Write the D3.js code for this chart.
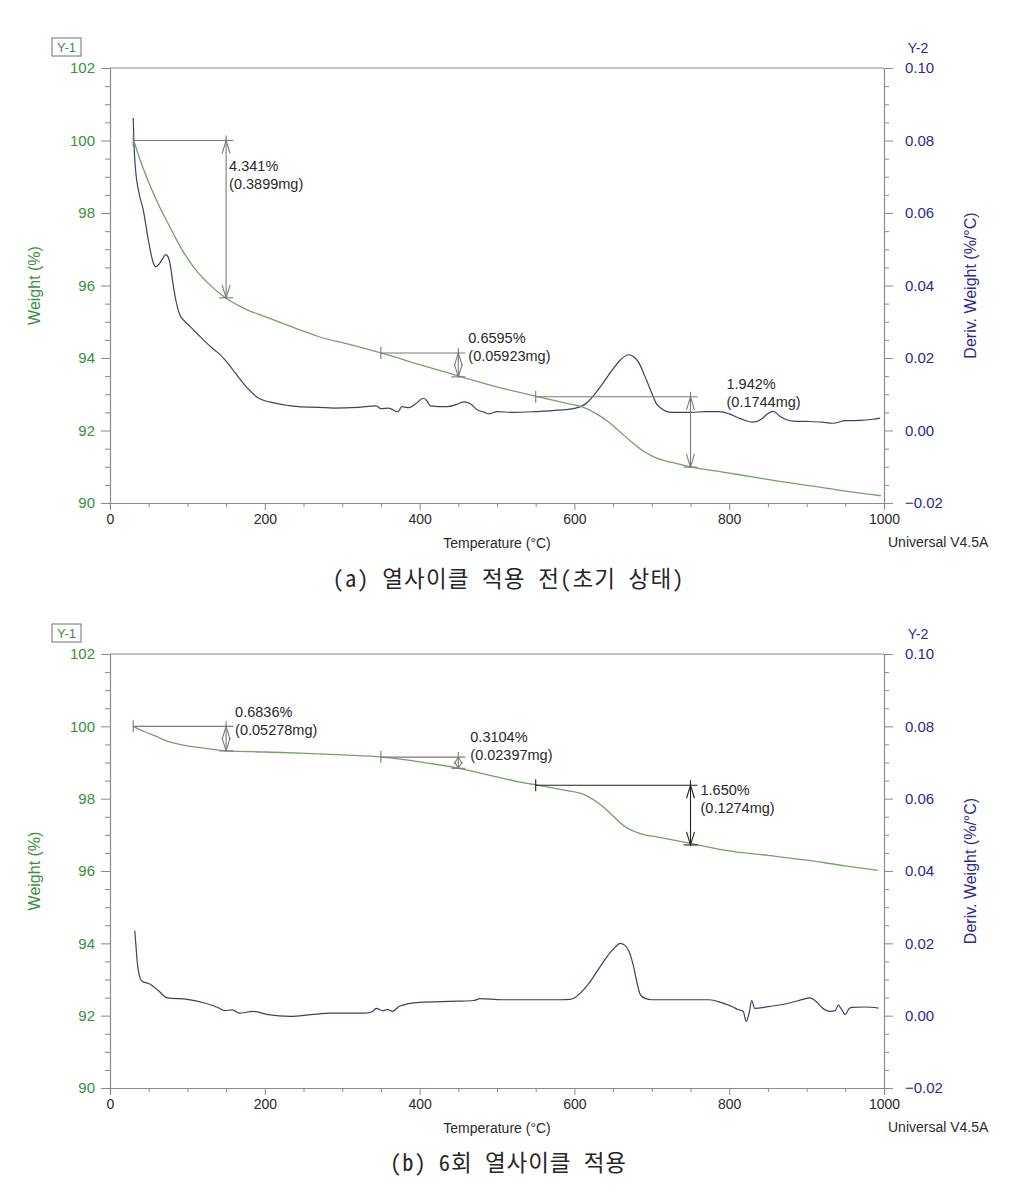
<!DOCTYPE html>
<html><head><meta charset="utf-8">
<script src="https://cdn.jsdelivr.net/npm/d3@7"></script>
<style>
body{margin:0;background:#fff;}
svg text{font-family:Arial,"Liberation Sans",Helvetica,sans-serif;}
</style></head>
<body>
<svg id="chart" width="1009" height="1193"></svg>
<script>
// ---------- DATA ----------
const xTicks = [0, 200, 400, 600, 800, 1000];
const yLeftTicks = [90, 92, 94, 96, 98, 100, 102];
const yRightTicks = [-0.02, 0.00, 0.02, 0.04, 0.06, 0.08, 0.10];

// Panel (a) weight % vs temperature
const weightA = [[30,100.05],[40,99.4],[50,98.85],[60,98.35],[74,97.75],[85,97.3],[95,96.92],[110,96.45],[125,96.1],[149,95.66],[175,95.35],[203,95.12],[240,94.82],[268,94.6],[310,94.37],[350,94.14],[400,93.82],[451,93.5],[506,93.17],[553,92.93],[590,92.75],[610,92.65],[627,92.48],[645,92.22],[657,92.0],[672,91.72],[687,91.46],[700,91.3],[709,91.22],[730,91.1],[752,90.99],[790,90.86],[830,90.72],[870,90.58],[917,90.44],[960,90.3],[996,90.2]];
// Panel (a) derivative weight %/°C
const derivA = [[30,0.0862],[31,0.079],[33,0.072],[37,0.066],[43,0.0608],[50,0.052],[56,0.0462],[59,0.0452],[63,0.0458],[68,0.0474],[72,0.0485],[75,0.0479],[78,0.0455],[81,0.041],[85,0.036],[90,0.032],[97,0.030],[104,0.0286],[115,0.0262],[125,0.0241],[135,0.0222],[143,0.0208],[148,0.0196],[155,0.0178],[162,0.0158],[169,0.0139],[178,0.0116],[190,0.0092],[200,0.0082],[212,0.0076],[230,0.0069],[246,0.0065],[270,0.0064],[289,0.0062],[320,0.0064],[344,0.0068],[350,0.0060],[360,0.0062],[372,0.0051],[377,0.0066],[386,0.0063],[395,0.0074],[405,0.0089],[410,0.0080],[414,0.0068],[425,0.0066],[436,0.0066],[448,0.0072],[458,0.0079],[466,0.0073],[474,0.0058],[484,0.0050],[490,0.0046],[500,0.0052],[520,0.0050],[549,0.0052],[580,0.0056],[600,0.0061],[610,0.0068],[617,0.0078],[623,0.0092],[636,0.0128],[649,0.0167],[660,0.0196],[670,0.0209],[677,0.0203],[683,0.0188],[691,0.0150],[700,0.0103],[706,0.0074],[711,0.0063],[726,0.0050],[750,0.0050],[770,0.0052],[787,0.0052],[800,0.0046],[815,0.0032],[830,0.0023],[842,0.0032],[850,0.0047],[857,0.0053],[865,0.0040],[875,0.0029],[882,0.0026],[900,0.0025],[920,0.0023],[934,0.0020],[950,0.0027],[970,0.0028],[985,0.0031],[995,0.0034]];

// Panel (b) weight % vs temperature
const weightB = [[30,100.0],[45,99.85],[60,99.72],[74,99.59],[95,99.48],[117,99.41],[150,99.32],[200,99.29],[246,99.26],[300,99.21],[352,99.15],[400,99.02],[451,98.84],[500,98.6],[532,98.45],[554,98.37],[585,98.24],[614,98.1],[636,97.8],[650,97.52],[666,97.22],[683,97.05],[710,96.93],[755,96.74],[795,96.57],[850,96.43],[900,96.3],[950,96.14],[992,96.02]];
// Panel (b) derivative weight %/°C
const derivB = [[32,0.0235],[34,0.018],[35,0.0152],[38,0.011],[41,0.0096],[52,0.0087],[63,0.0068],[74,0.0049],[100,0.0045],[122,0.0035],[140,0.0022],[148,0.0014],[158,0.0016],[167,0.0007],[185,0.0012],[204,0.0003],[233,-0.0002],[260,0.0003],[285,0.0007],[330,0.0007],[338,0.0010],[344,0.0020],[352,0.0014],[359,0.0017],[365,0.0012],[374,0.0026],[400,0.0037],[448,0.0040],[470,0.0042],[478,0.0047],[507,0.0044],[581,0.0044],[594,0.0045],[600,0.0049],[608,0.0063],[618,0.0087],[630,0.0125],[641,0.0160],[652,0.0188],[659,0.0200],[665,0.0195],[670,0.0180],[676,0.0140],[681,0.0090],[685,0.0059],[692,0.0047],[700,0.0044],[740,0.0044],[774,0.0044],[790,0.0036],[805,0.0024],[811,0.0017],[818,0.0012],[822,-0.0016],[826,0.0010],[829,0.0042],[833,0.0020],[850,0.0025],[878,0.0035],[895,0.0045],[904,0.0049],[912,0.0040],[920,0.0022],[930,0.0012],[937,0.0014],[941,0.0029],[945,0.0018],[950,0.0003],[955,0.0020],[959,0.0023],[975,0.0024],[993,0.0021]];

// Step-change annotations: [startT, endT, startW, endW, percent, mass]
const stepsA = [[30,150,100.0,95.66,"4.341%","(0.3899mg)"],[350,450,94.14,93.48,"0.6595%","(0.05923mg)"],[550,750,92.93,90.99,"1.942%","(0.1744mg)"]];
const stepsB = [[30,150,100.0,99.32,"0.6836%","(0.05278mg)"],[350,450,99.15,98.84,"0.3104%","(0.02397mg)"],[550,750,98.37,96.72,"1.650%","(0.1274mg)"]];

const captions = ["(a) 열사이클 적용 전(초기 상태)", "(b) 6회 열사이클 적용"];

// ---------- DRAW ----------
const svg = d3.select("#chart");
const GREEN = "#3a8f3a", BLUE = "#2b2b8f", AXIS = "#8a8a8a", TXT = "#2a2a2a";
const labelOffA = [[3, 30], [10, -10], [36, -8]];
const labelOffB = [[9, -9], [12, -15], [10, 10]];

function panel(top, bottom, weight, deriv, steps, labelOff, caption, capY, capW, darkLast) {
  const x = d3.scaleLinear().domain([0, 1000]).range([110, 884]);
  const yL = d3.scaleLinear().domain([90, 102]).range([bottom, top]);
  const yR = d3.scaleLinear().domain([-0.02, 0.10]).range([bottom, top]);
  const g = svg.append("g");

  g.append("line").attr("x1", 110).attr("x2", 884).attr("y1", top).attr("y2", top)
    .attr("stroke", AXIS).attr("stroke-width", 1.2);

  const xa = g.append("g").attr("transform", `translate(0,${bottom})`)
    .call(d3.axisBottom(x).tickValues(d3.range(0, 1001, 50)).tickSize(6)
      .tickFormat(d => xTicks.includes(d) ? d : ""));
  xa.attr("font-family", null);
  xa.select(".domain").attr("stroke", AXIS).attr("stroke-width", 1.2);
  xa.selectAll(".tick line").attr("stroke", AXIS).attr("y2", d => xTicks.includes(d) ? 7 : 4);
  xa.selectAll(".tick text").attr("fill", TXT).attr("font-size", 14).attr("dy", "0.85em").attr("y", 9);

  const la = g.append("g").attr("transform", "translate(110,0)")
    .call(d3.axisLeft(yL).tickValues(d3.range(90, 102.01, 0.5)).tickSize(9)
      .tickFormat(d => yLeftTicks.includes(d) ? d : ""));
  la.attr("font-family", null);
  la.select(".domain").attr("stroke", AXIS).attr("stroke-width", 1.2);
  la.selectAll(".tick line").attr("stroke", AXIS).attr("x2", d => yLeftTicks.includes(d) ? -9 : -5);
  la.selectAll(".tick text").attr("fill", GREEN).attr("font-size", 15).attr("x", -15);

  const ra = g.append("g").attr("transform", "translate(884,0)")
    .call(d3.axisRight(yR).tickValues(d3.range(-0.02, 0.1001, 0.005).map(v => +v.toFixed(3))).tickSize(9)
      .tickFormat(d => yRightTicks.some(t => Math.abs(t - d) < 1e-9) ? d3.format(".2f")(d) : ""));
  ra.attr("font-family", null);
  ra.select(".domain").attr("stroke", AXIS).attr("stroke-width", 1.2);
  ra.selectAll(".tick line").attr("stroke", AXIS)
    .attr("x2", d => yRightTicks.some(t => Math.abs(t - d) < 1e-9) ? 9 : 5);
  ra.selectAll(".tick text").attr("fill", BLUE).attr("font-size", 15).attr("x", 21);

  g.append("rect").attr("x", 52).attr("y", top - 30).attr("width", 29).attr("height", 18)
    .attr("fill", "none").attr("stroke", "#888").attr("stroke-width", 1.2);
  g.append("text").attr("x", 66.5).attr("y", top - 16).attr("text-anchor", "middle")
    .attr("fill", GREEN).attr("font-size", 13).text("Y-1");
  g.append("text").attr("x", 918).attr("y", top - 15).attr("text-anchor", "middle")
    .attr("fill", BLUE).attr("font-size", 14).text("Y-2");

  const mid = (top + bottom) / 2;
  g.append("text").attr("transform", `translate(40,${mid}) rotate(-90)`).attr("text-anchor", "middle")
    .attr("fill", GREEN).attr("font-size", 16).text("Weight (%)");
  g.append("text").attr("transform", `translate(976,${mid}) rotate(-90)`).attr("text-anchor", "middle")
    .attr("fill", BLUE).attr("font-size", 16).text("Deriv. Weight (%/°C)");
  g.append("text").attr("x", 497).attr("y", bottom + 45).attr("text-anchor", "middle")
    .attr("fill", TXT).attr("font-size", 14).text("Temperature (°C)");
  g.append("text").attr("x", 888).attr("y", bottom + 44)
    .attr("fill", TXT).attr("font-size", 14).text("Universal V4.5A");

  const lineW = d3.line().x(d => x(d[0])).y(d => yL(d[1])).curve(d3.curveMonotoneX);
  const lineD = d3.line().x(d => x(d[0])).y(d => yR(d[1])).curve(d3.curveMonotoneX);
  g.append("path").datum(deriv).attr("d", lineD).attr("fill", "none")
    .attr("stroke", "#3f3f68").attr("stroke-width", 1.2);
  g.append("path").datum(weight).attr("d", lineW).attr("fill", "none")
    .attr("stroke", "#72a266").attr("stroke-width", 1.3);

  steps.forEach((s, i) => {
    const [t0, t1, w0, w1, pct, mg] = s;
    const col = (darkLast && i === 2) ? "#222" : "#7a7a7a";
    const xs = x(t0), xe = x(t1), ys = yL(w0), ye = yL(w1);
    const a = g.append("g").attr("stroke", col).attr("fill", "none").attr("stroke-width", 1.1);
    a.append("line").attr("x1", xs).attr("x2", xe + 7).attr("y1", ys).attr("y2", ys);
    a.append("line").attr("x1", xs).attr("x2", xs).attr("y1", ys - 6).attr("y2", ys + 6);
    a.append("line").attr("x1", xe).attr("x2", xe).attr("y1", ys - 5).attr("y2", ye);
    a.append("line").attr("x1", xe - 7).attr("x2", xe + 7).attr("y1", ye).attr("y2", ye);
    const h = Math.min(13, Math.abs(ye - ys) / 2 + 1);
    a.append("path").attr("d", `M${xe - 4},${ys + h} L${xe},${ys} L${xe + 4},${ys + h}`);
    a.append("path").attr("d", `M${xe - 4},${ye - h} L${xe},${ye} L${xe + 4},${ye - h}`);
    const tx = xe + labelOff[i][0], ty = ys + labelOff[i][1];
    g.append("text").attr("x", tx).attr("y", ty).attr("fill", TXT).attr("font-size", 14.5).text(pct);
    g.append("text").attr("x", tx).attr("y", ty + 18).attr("fill", TXT).attr("font-size", 14.5).text(mg);
  });

  g.append("text").attr("x", 508 - capW / 2).attr("y", capY)
    .attr("fill", "#262626").attr("font-size", 22.5)
    .attr("textLength", capW).attr("lengthAdjust", "spacing")
    .style("font-family", "'Noto Sans Mono CJK KR', 'Noto Sans CJK KR', sans-serif").text(caption);
}

panel(68, 503, weightA, derivA, stepsA, labelOffA, captions[0], 587, 351, false);
panel(654, 1088, weightB, derivB, stepsB, labelOffB, captions[1], 1171, 236, true);
</script>
</body></html>
